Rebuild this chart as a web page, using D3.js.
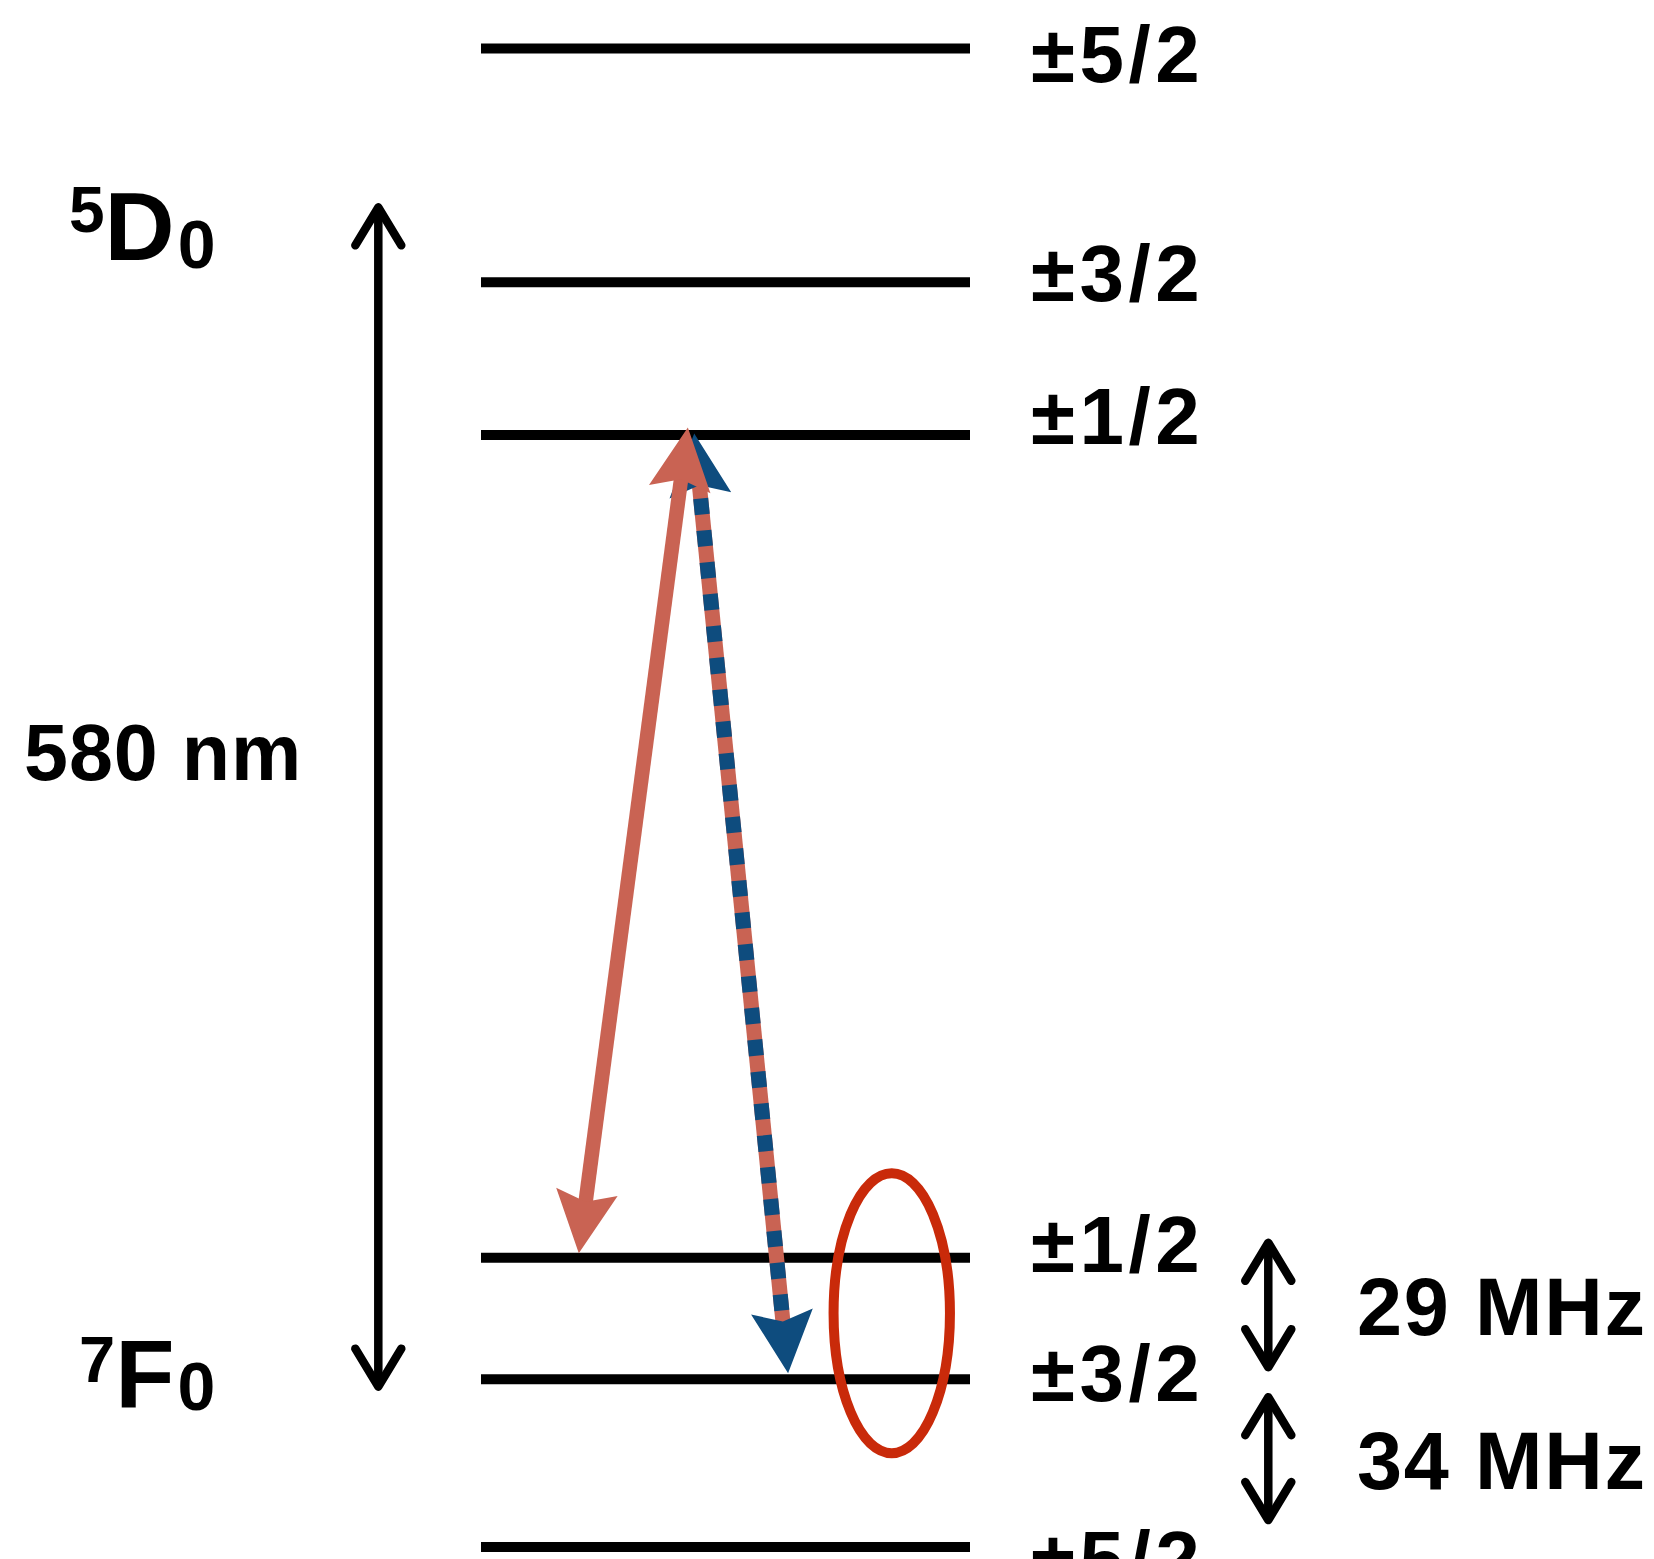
<!DOCTYPE html>
<html><head><meta charset="utf-8">
<script src="https://cdn.jsdelivr.net/npm/d3@7"></script>
<style>html,body{margin:0;padding:0;background:#fff;} svg{display:block;}</style>
</head><body>
<script>
// ---------------- data (diagram units) ----------------
const levelLabels   = ["±5/2", "±3/2", "±1/2", "±1/2", "±3/2", "±5/2"];
const levelManifold = ["5D0", "5D0", "5D0", "7F0", "7F0", "7F0"];
const levelEnergy   = [1000, 844, 742, 193, 112, 0];
const manifoldNames = [["5", "D", "0"], ["7", "F", "0"]];
const opticalLabel  = "580 nm";
const opticalSpan   = [107, 894];             // energy units, double arrow
const splitLabels   = ["29 MHz", "34 MHz"];
const splitSpans    = [[120, 203], [18, 100]];
// transitions: [x, energy] of each end (x in % of level line)
const pumpFrom  = [20.0, 196];
const pumpTo    = [42.3, 747];
const emitFrom  = [43.6, 743];
const emitTo    = [62.8, 116];
const circled   = {cx: 84.0, cy: 156, rx: 11.9, ry: 93.4};

// ---------------- layout ----------------
const W = 1654, H = 1559;
const x = d3.scaleLinear().domain([0, 100]).range([481, 970]);
const y = d3.scaleLinear().domain([0, 1000]).range([1547, 48.5]);
const salmon = "#C96353", blue = "#0E4C7E", red = "#C92A0A";
const FONT = "'Liberation Sans', Arial, Helvetica, sans-serif";
const labelBaseline = [82, 301, 444, 1272, 1401, 1587];
const opticalX = x(-21);
const splitX = x(161);

const svg = d3.select("body").append("svg").attr("width", W).attr("height", H);

// level lines
svg.append("g").selectAll("line").data(levelEnergy).join("line")
  .attr("x1", x(0)).attr("x2", x(100))
  .attr("y1", d => y(d)).attr("y2", d => y(d))
  .attr("stroke", "#000").attr("stroke-width", 10);

// level labels
svg.append("g").selectAll("text").data(levelLabels).join("text")
  .attr("x", 1031).attr("y", (d, i) => labelBaseline[i])
  .attr("font-family", FONT).attr("font-weight", "bold").attr("font-size", 80)
  .attr("letter-spacing", 4.5)
  .attr("fill", "#000").text(d => d);

// simple open double arrow
function openDoubleArrow(g, cx, yTop, yBot, sw, hl, hw) {
  g.append("line").attr("x1", cx).attr("x2", cx).attr("y1", yTop + 2).attr("y2", yBot - 2)
    .attr("stroke", "#000").attr("stroke-width", sw).attr("stroke-linecap", "round");
  g.append("path").attr("d", `M${cx - hw},${yTop + hl} L${cx},${yTop} L${cx + hw},${yTop + hl}`)
    .attr("fill", "none").attr("stroke", "#000").attr("stroke-width", sw)
    .attr("stroke-linecap", "round").attr("stroke-linejoin", "round");
  g.append("path").attr("d", `M${cx - hw},${yBot - hl} L${cx},${yBot} L${cx + hw},${yBot - hl}`)
    .attr("fill", "none").attr("stroke", "#000").attr("stroke-width", sw)
    .attr("stroke-linecap", "round").attr("stroke-linejoin", "round");
}

// optical arrow
const gOpt = svg.append("g");
openDoubleArrow(gOpt, opticalX, y(opticalSpan[1]), y(opticalSpan[0]), 8.5, 38, 23);

// splitting arrows + labels
splitSpans.forEach((s, i) => {
  const g = svg.append("g");
  openDoubleArrow(g, splitX, y(s[1]), y(s[0]), 8.5, 38, 23);
});
const splitBaseline = [1335, 1489];
svg.append("g").selectAll("text").data(splitLabels).join("text")
  .attr("x", 1357).attr("y", (d, i) => splitBaseline[i])
  .attr("font-family", FONT).attr("font-weight", "bold").attr("font-size", 81)
  .attr("letter-spacing", 1.8)
  .attr("fill", "#000").text(d => d);

// optical label
svg.append("text").attr("x", 24).attr("y", 780)
  .attr("font-family", FONT).attr("font-weight", "bold").attr("font-size", 79)
  .attr("letter-spacing", 1)
  .attr("fill", "#000").text(opticalLabel);

// manifold names
const nameLayout = [
  {x: 69,  sup: {size: 64, y: 232}, main: {size: 97, y: 260}, sub: {size: 68, y: 268, dx: 3}},
  {x: 79,  sup: {size: 65, y: 1382}, main: {size: 97, y: 1407}, sub: {size: 68, y: 1410, dx: 3}}
];
manifoldNames.forEach((n, i) => {
  const L = nameLayout[i];
  const t = svg.append("text").attr("x", L.x).attr("y", L.sup.y)
    .attr("font-family", FONT).attr("font-weight", "bold").attr("fill", "#000");
  t.append("tspan").attr("font-size", L.sup.size).text(n[0]);
  t.append("tspan").attr("font-size", L.main.size).attr("dy", L.main.y - L.sup.y).text(n[1]);
  t.append("tspan").attr("font-size", L.sub.size).attr("dx", L.sub.dx).attr("dy", L.sub.y - L.main.y).text(n[2]);
});

// barbed arrowhead polygon
function head(tip, from, Lh, Wh, notch) {
  const dx = tip[0] - from[0], dy = tip[1] - from[1], len = Math.hypot(dx, dy);
  const ux = dx / len, uy = dy / len, nx = -uy, ny = ux;
  const bx = tip[0] - Lh * ux, by = tip[1] - Lh * uy;
  return [[tip[0], tip[1]], [bx + Wh * nx, by + Wh * ny],
          [tip[0] - (Lh - notch) * ux, tip[1] - (Lh - notch) * uy],
          [bx - Wh * nx, by - Wh * ny]];
}
function inset(p, q, dist) {
  const dx = q[0] - p[0], dy = q[1] - p[1], len = Math.hypot(dx, dy);
  return [p[0] + dx / len * dist, p[1] + dy / len * dist];
}
const line = d3.line();
const HL = 62, HW = 31, NOTCH = 10;

// emission arrow (dashed salmon/blue)
const eA = [x(emitFrom[0]), y(emitFrom[1])], eB = [x(emitTo[0]), y(emitTo[1])];
const gE = svg.append("g");
const eS = inset(eA, eB, HL - NOTCH - 3), eE = inset(eB, eA, HL - NOTCH - 3);
gE.append("path").attr("d", line([eS, eE]))
  .attr("stroke", salmon).attr("stroke-width", 15).attr("fill", "none");
gE.append("path").attr("d", line([eE, eS]))
  .attr("stroke", blue).attr("stroke-width", 15).attr("fill", "none")
  .attr("stroke-dasharray", "16 16").attr("stroke-dashoffset", -14);
gE.append("path").attr("d", line(head(eA, eB, HL, HW, NOTCH)) + "Z").attr("fill", blue);
gE.append("path").attr("d", line(head(eB, eA, HL, HW, NOTCH)) + "Z").attr("fill", blue);

// pump arrow (solid salmon, double headed)
const pA = [x(pumpFrom[0]), y(pumpFrom[1])], pB = [x(pumpTo[0]), y(pumpTo[1])];
const gP = svg.append("g");
gP.append("path").attr("d", line([inset(pA, pB, HL - NOTCH - 3), inset(pB, pA, HL - NOTCH - 3)]))
  .attr("stroke", salmon).attr("stroke-width", 14.5).attr("fill", "none");
gP.append("path").attr("d", line(head(pA, pB, HL, HW, NOTCH)) + "Z").attr("fill", salmon);
gP.append("path").attr("d", line(head(pB, pA, HL, HW, NOTCH)) + "Z").attr("fill", salmon);

// circled transitions
svg.append("ellipse")
  .attr("cx", x(circled.cx)).attr("cy", y(circled.cy))
  .attr("rx", x(circled.rx) - x(0)).attr("ry", y(0) - y(circled.ry))
  .attr("fill", "none").attr("stroke", red).attr("stroke-width", 10);
</script>
</body></html>
